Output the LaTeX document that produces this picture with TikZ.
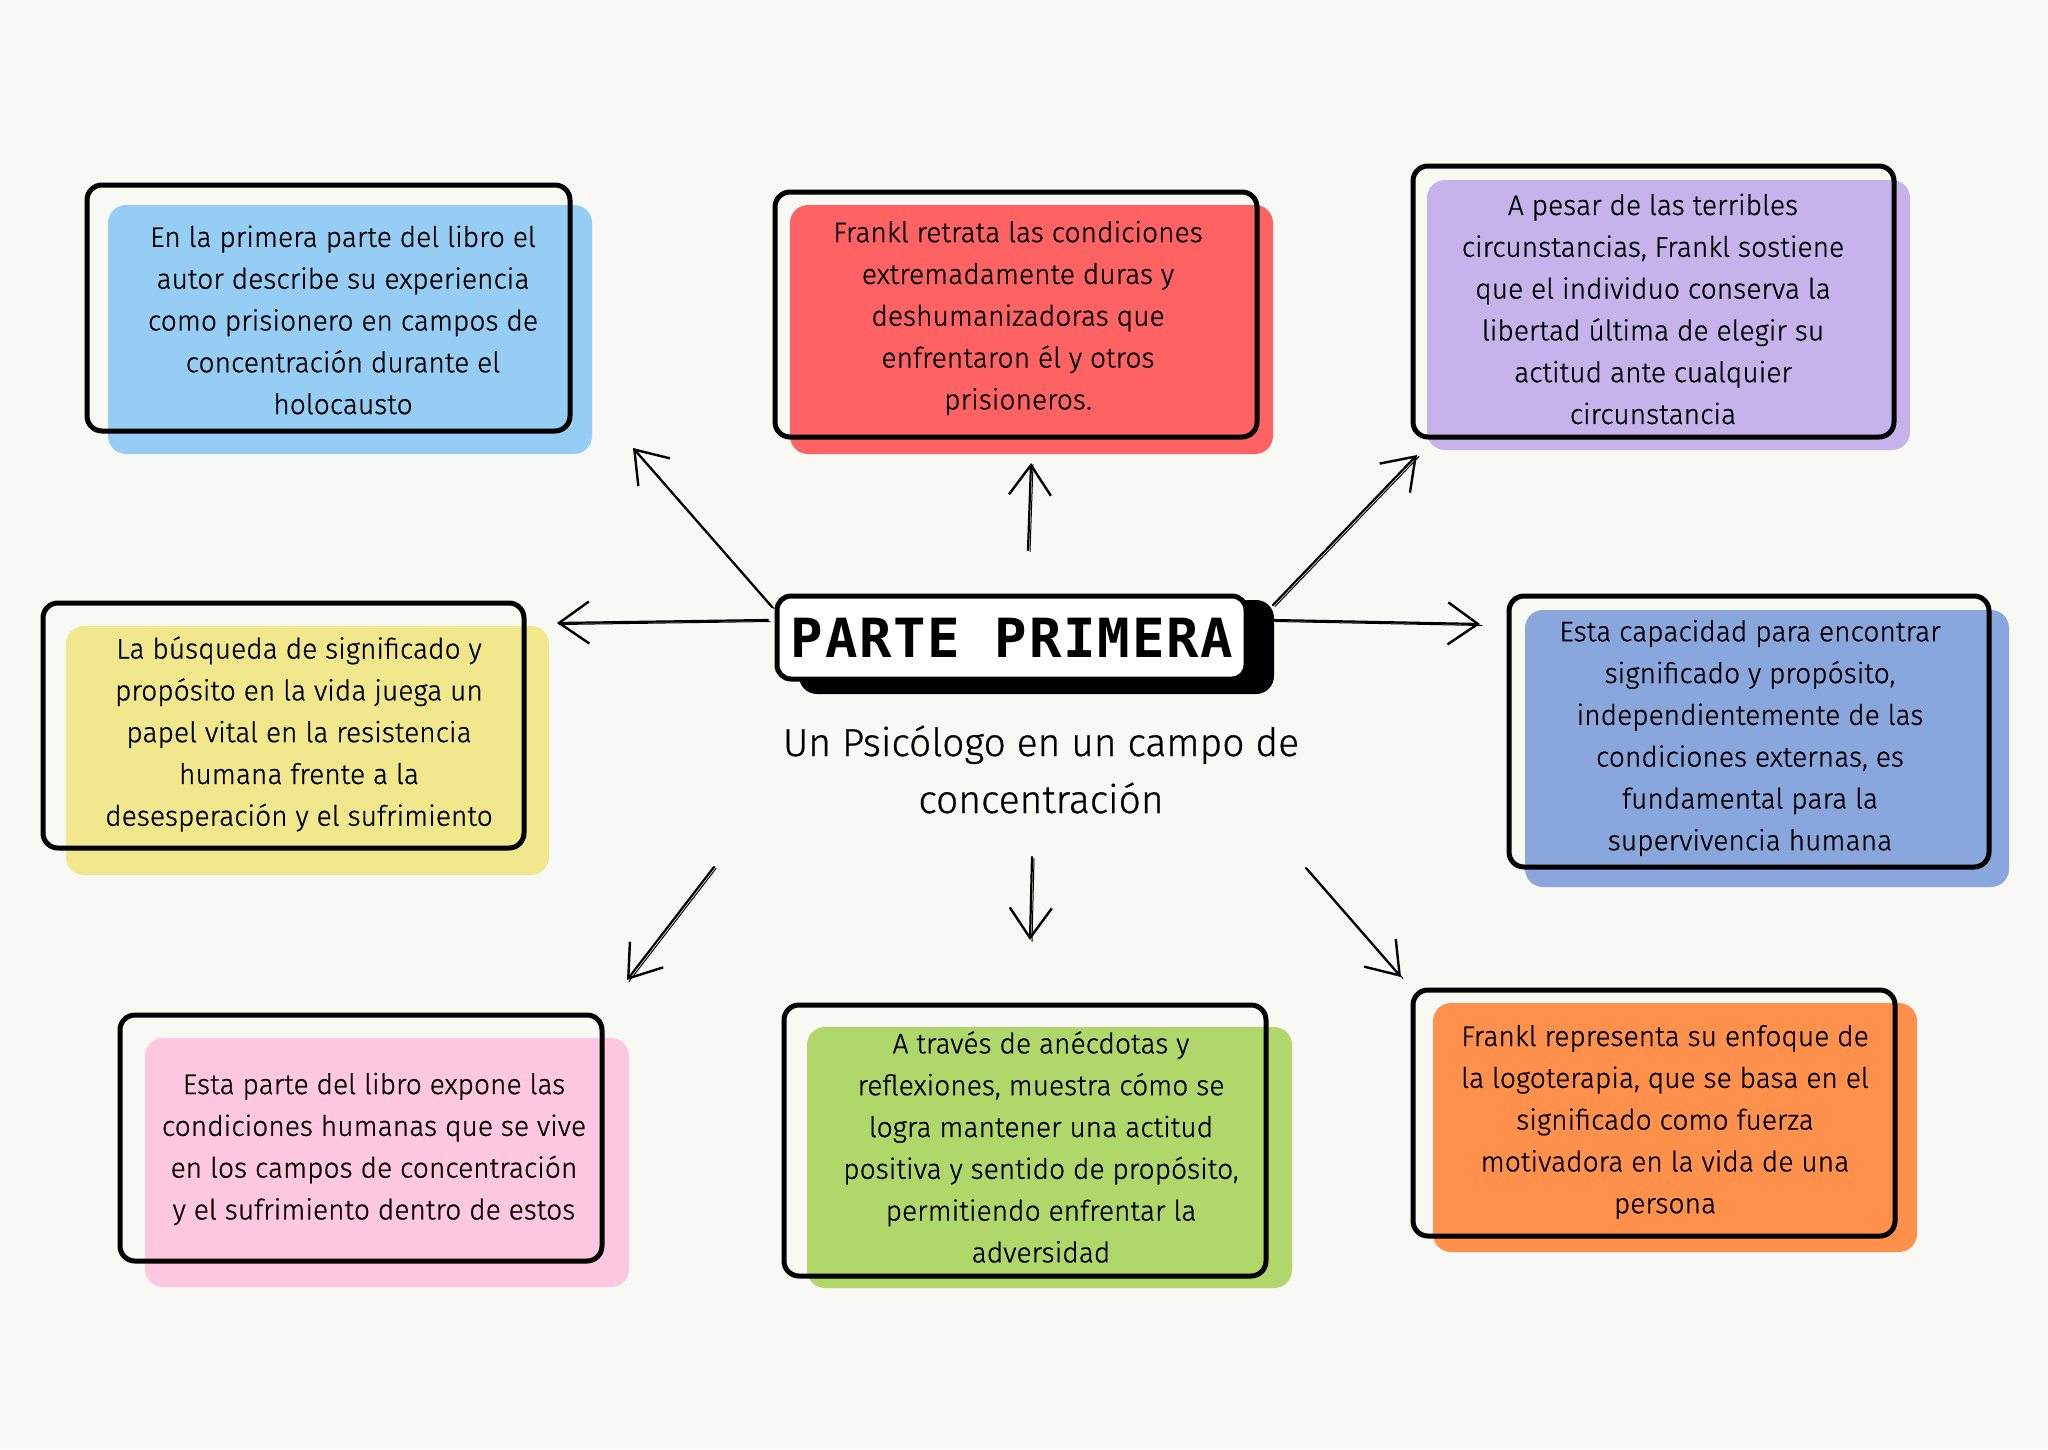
\documentclass[tikz,border=0pt]{standalone}
\usepackage{fontspec}
\setmainfont{Fira Sans Light}[FakeBold=0.7]
\newfontfamily\titlefont[LetterSpace=3.3]{DejaVu Sans Mono}
\usetikzlibrary{arrows.meta,calc}
\definecolor{bgc}{HTML}{F8F8F4}
\definecolor{cblue}{HTML}{95CDF4}
\definecolor{cred}{HTML}{FF6262}
\definecolor{cpurple}{HTML}{C6B3EC}
\definecolor{cyellow}{HTML}{F1E78D}
\definecolor{cperi}{HTML}{8AA7DD}
\definecolor{cpink}{HTML}{FFC7E0}
\definecolor{cgreen}{HTML}{AFD76A}
\definecolor{corange}{HTML}{FF914D}
\tikzset{
  fillbox/.style={rounded corners=18pt},
  linebox/.style={draw=black, line width=5pt, rounded corners=15pt},
  body/.style={align=center, inner sep=0pt, font=\fontsize{28.2}{41.8}\selectfont, text=black},
  arr/.style={line width=2.2pt, line cap=round, -{Straight Barb[length=30pt,width=42pt,line width=2.4pt]}},
  arrtwin/.style={line width=1pt, line cap=round}
}
\newcommand\sketcharrow[2]{%
  \draw[arr] (#1) -- (#2);
  \draw[arrtwin] ($(#1)+(2,1.5)$) -- ($(#2)+(2,1.5)$);
}
\begin{document}
\begin{tikzpicture}[x=1pt,y=-1pt]
\useasboundingbox (0,0) rectangle (2048,1449);
\fill[bgc] (0,0) rectangle (2048,1449);

% fills
\fill[cblue,fillbox] (108,205) rectangle (592,454);
\fill[cred,fillbox] (790,205) rectangle (1273,454);
\fill[cpurple,fillbox] (1427,180) rectangle (1910,450);
\fill[cyellow,fillbox] (66,626) rectangle (549,875);
\fill[cperi,fillbox] (1525,610) rectangle (2009,887);
\fill[cpink,fillbox] (145,1038) rectangle (629,1287);
\fill[cgreen,fillbox] (807,1027) rectangle (1292,1288);
\fill[corange,fillbox] (1433,1003) rectangle (1917,1252);

% outlines
\draw[linebox] (87,185) rectangle (570,431);
\draw[linebox] (775,192) rectangle (1257,437);
\draw[linebox] (1413,166) rectangle (1894,437);
\draw[linebox] (43,603) rectangle (524,848);
\draw[linebox] (1509,596) rectangle (1989,867);
\draw[linebox] (120,1015) rectangle (602,1261);
\draw[linebox] (784,1005) rectangle (1266,1276);
\draw[linebox] (1413,990) rectangle (1895,1236);

% texts
\node[body] (t1) at (343,320) {En la primera parte del libro el\\autor describe su experiencia\\como prisionero en campos de\\concentración durante el\\holocausto};
\node[body] (t2) at (1018,318) {Frankl retrata las condiciones\\extremadamente duras y\\deshumanizadoras que\\enfrentaron él y otros\\prisioneros.};
\node[body] (t3) at (1653,309) {A pesar de las terribles\\circunstancias, Frankl sostiene\\que el individuo conserva la\\libertad última de elegir su\\actitud ante cualquier\\circunstancia};
\node[body] (t4) at (299,734) {La búsqueda de significado y\\propósito en la vida juega un\\papel vital en la resistencia\\humana frente a la\\desesperación y el sufrimiento};
\node[body] (t5) at (1750,738) {Esta capacidad para encontrar\\significado y propósito,\\independientemente de las\\condiciones externas, es\\fundamental para la\\supervivencia humana};
\node[body] (t6) at (374,1149) {Esta parte del libro expone las\\condiciones humanas que se vive\\en los campos de concentración\\y el sufrimiento dentro de estos};
\node[body] (t7) at (1041,1147) {A través de anécdotas y\\reflexiones, muestra cómo se\\logra mantener una actitud\\positiva y sentido de propósito,\\permitiendo enfrentar la\\adversidad};
\node[body] (t8) at (1665,1122) {Frankl representa su enfoque de\\la logoterapia, que se basa en el\\significado como fuerza\\motivadora en la vida de una\\persona};

% title
\fill[black, rounded corners=18pt] (799,600) rectangle (1274,694);
\draw[fill=white, line width=5pt, rounded corners=14pt] (777,596) rectangle (1246,679);
\node[anchor=base, inner sep=0pt, font=\titlefont\bfseries\fontsize{54}{60}\selectfont] (title) at (1012,657) {PARTE PRIMERA};
\node[anchor=base, inner sep=0pt, font=\fontsize{39}{57}\selectfont] (sub1) at (1041,756) {Un Psicólogo en un campo de};
\node[anchor=base, inner sep=0pt, font=\fontsize{39}{57}\selectfont] (sub2) at (1041,813) {concentración};

% arrow endpoints
\coordinate (a1s) at (772,607); \coordinate (a1e) at (633,448);
\coordinate (a2s) at (768,620); \coordinate (a2e) at (557,623);
\coordinate (a3s) at (1028,550); \coordinate (a3e) at (1031,463);
\coordinate (a4s) at (1273,605); \coordinate (a4e) at (1417,455);
\coordinate (a5s) at (1273,620); \coordinate (a5e) at (1480,624);
\coordinate (a6s) at (714,867); \coordinate (a6e) at (627,980);
\coordinate (a7s) at (1032,857); \coordinate (a7e) at (1030,940);
\coordinate (a8s) at (1306,868); \coordinate (a8e) at (1401,977);
\sketcharrow{a1s}{a1e}
\sketcharrow{a2s}{a2e}
\sketcharrow{a3s}{a3e}
\sketcharrow{a4s}{a4e}
\sketcharrow{a5s}{a5e}
\sketcharrow{a6s}{a6e}
\sketcharrow{a7s}{a7e}
\sketcharrow{a8s}{a8e}
\end{tikzpicture}
\end{document}
